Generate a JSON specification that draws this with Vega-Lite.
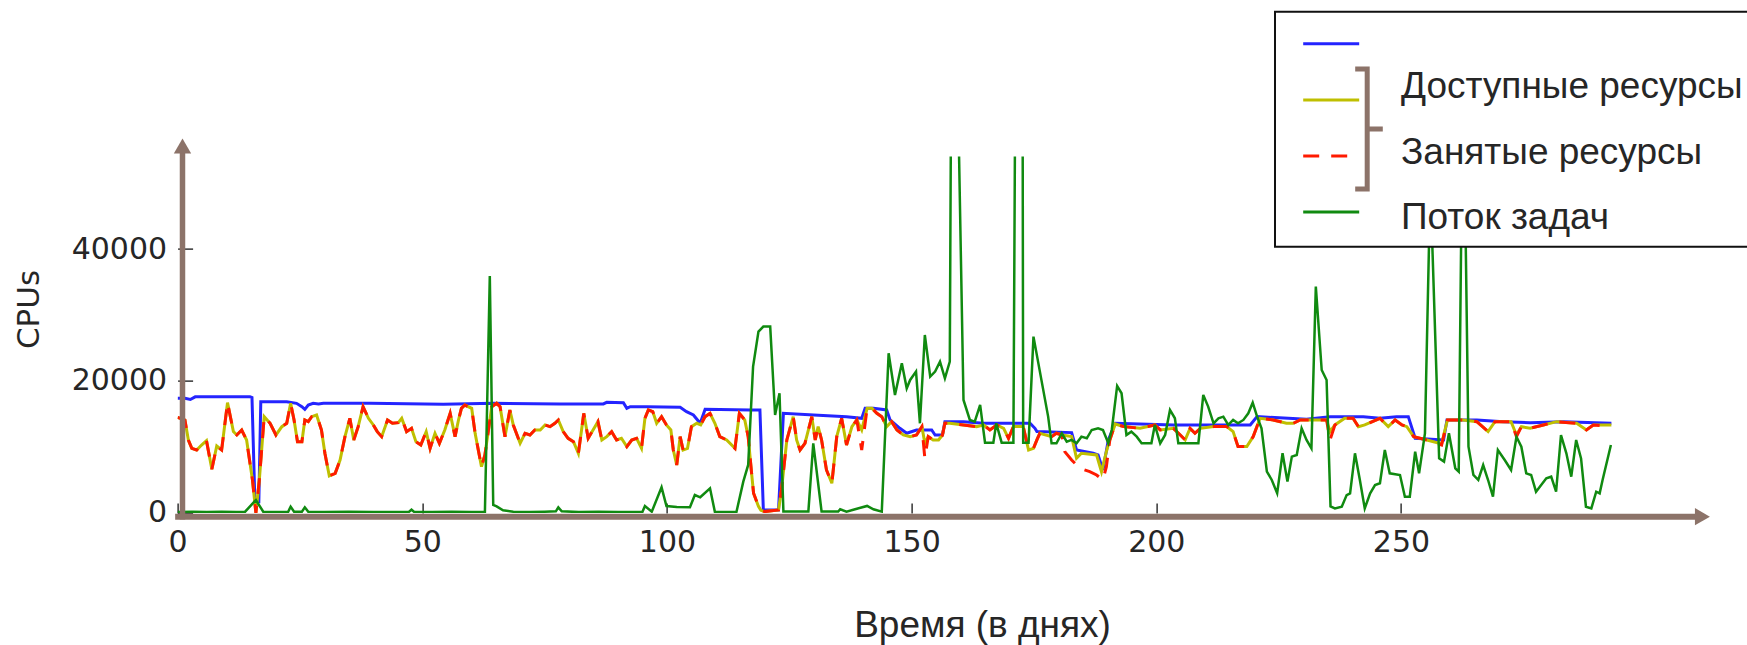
{
  "$schema": "https://vega.github.io/schema/vega-lite/v6.json",
  "width": 1541.45,
  "height": 356.4,
  "autosize": {"type": "none"},
  "padding": {"left": 177.6, "top": 156.6, "right": 28, "bottom": 132},
  "background": "white",
  "config": {
    "view": {"stroke": null},
    "axis": {"grid": false, "domain": false, "tickColor": "black", "tickWidth": 1.2, "labelFont": "DejaVu Sans", "labelFontSize": 30, "labelColor": "#262626", "titleColor": "#262626", "titleFontWeight": "normal", "labelFlush": false},
    "axisX": {"tickSize": -10},
    "axisY": {"tickSize": -15},
    "legend": {"strokeWidth": 2}
  },
  "datasets": {
    "blue": [
      {"d":0,"v":17400},{"d":1.5,"v":17370},{"d":2.6,"v":17200},{"d":3.6,"v":17600},{"d":14.8,"v":17600},{"d":15.2,"v":17500},{"d":15.8,"v":1700},{"d":16.6,"v":1700},{"d":17.0,"v":16870},{"d":22.3,"v":16870},{"d":24.3,"v":16620},{"d":25.4,"v":16110},{"d":26.0,"v":15700},{"d":26.7,"v":16360},{"d":27.7,"v":16620},{"d":28.8,"v":16500},{"d":29.8,"v":16620},{"d":39.3,"v":16620},{"d":54.3,"v":16470},{"d":64.5,"v":16620},{"d":78.1,"v":16520},{"d":87.0,"v":16520},{"d":87.7,"v":16770},{"d":91.1,"v":16720},{"d":91.8,"v":15860},{"d":92.5,"v":16110},{"d":95.9,"v":16110},{"d":102.7,"v":16010},{"d":104.0,"v":15360},{"d":105.4,"v":14850},{"d":106.8,"v":13590},{"d":107.8,"v":15710},{"d":117.0,"v":15610},{"d":119.0,"v":15610},{"d":119.7,"v":460},{"d":122.8,"v":460},{"d":123.8,"v":15100},{"d":130.0,"v":14850},{"d":136.7,"v":14600},{"d":139.8,"v":14350},{"d":140.5,"v":15860},{"d":142.2,"v":15860},{"d":144.9,"v":15610},{"d":145.6,"v":14100},{"d":147.6,"v":12830},{"d":149.0,"v":12080},{"d":151.0,"v":12580},{"d":154.1,"v":12580},{"d":154.8,"v":11820},{"d":156.3,"v":11820},{"d":156.8,"v":13840},{"d":160.6,"v":13840},{"d":164.7,"v":13590},{"d":174.2,"v":13590},{"d":175.2,"v":12830},{"d":175.6,"v":12330},{"d":182.7,"v":12180},{"d":183.7,"v":9550},{"d":187.1,"v":9050},{"d":188.1,"v":8790},{"d":189.1,"v":6520},{"d":190.2,"v":11070},{"d":191.6,"v":13590},{"d":203.5,"v":13340},{"d":210.3,"v":13340},{"d":219.2,"v":13340},{"d":220.6,"v":14600},{"d":230.7,"v":14200},{"d":235.5,"v":14600},{"d":242.3,"v":14600},{"d":245.7,"v":14350},{"d":249.1,"v":14600},{"d":251.5,"v":14600},{"d":252.9,"v":11320},{"d":258.7,"v":11060},{"d":259.4,"v":14090},{"d":265.5,"v":14090},{"d":270.9,"v":13840},{"d":276.4,"v":13690},{"d":283.2,"v":13840},{"d":293.0,"v":13590}
    ],
    "yellow": [
      {"d":0,"v":14500},{"d":1.5,"v":14090},{"d":2.2,"v":11060},{"d":2.9,"v":9800},{"d":3.9,"v":9550},{"d":4.9,"v":10300},{"d":5.9,"v":10960},{"d":7.0,"v":6620},{"d":8.0,"v":10150},{"d":9.0,"v":9550},{"d":10.2,"v":16720},{"d":11.4,"v":12330},{"d":12.1,"v":11820},{"d":13.1,"v":12580},{"d":14.1,"v":11060},{"d":15.3,"v":5000},{"d":16.0,"v":0},{"d":16.7,"v":5000},{"d":17.7,"v":14600},{"d":18.9,"v":13590},{"d":20.1,"v":11820},{"d":21.3,"v":13080},{"d":22.3,"v":13590},{"d":23.1,"v":16620},{"d":23.8,"v":14090},{"d":24.5,"v":10810},{"d":25.4,"v":10810},{"d":26.0,"v":14090},{"d":26.7,"v":13840},{"d":27.4,"v":14600},{"d":28.4,"v":14850},{"d":29.4,"v":12580},{"d":30.1,"v":9040},{"d":31.0,"v":5610},{"d":32.2,"v":6010},{"d":33.2,"v":8030},{"d":34.2,"v":11570},{"d":35.2,"v":14350},{"d":36.0,"v":11060},{"d":36.9,"v":13080},{"d":37.9,"v":16110},{"d":39.0,"v":14350},{"d":40.0,"v":13340},{"d":40.8,"v":12330},{"d":41.7,"v":11570},{"d":42.9,"v":14090},{"d":43.9,"v":13590},{"d":45.1,"v":13690},{"d":45.8,"v":14350},{"d":46.8,"v":12330},{"d":47.8,"v":12830},{"d":48.7,"v":10810},{"d":49.7,"v":10310},{"d":50.8,"v":12330},{"d":51.6,"v":9800},{"d":52.6,"v":12070},{"d":53.5,"v":10560},{"d":54.6,"v":12580},{"d":55.7,"v":15100},{"d":56.7,"v":11570},{"d":57.4,"v":14090},{"d":58.0,"v":15860},{"d":58.7,"v":16360},{"d":60.1,"v":15860},{"d":60.8,"v":12070},{"d":62.1,"v":7020},{"d":62.8,"v":8790},{"d":64.2,"v":16110},{"d":65.2,"v":16620},{"d":65.9,"v":16110},{"d":66.9,"v":11570},{"d":67.9,"v":15610},{"d":68.6,"v":13340},{"d":70.0,"v":10560},{"d":71.0,"v":12070},{"d":72.0,"v":11820},{"d":73.0,"v":12580},{"d":74.1,"v":12580},{"d":75.1,"v":13340},{"d":76.1,"v":13080},{"d":77.1,"v":13590},{"d":77.8,"v":14090},{"d":78.8,"v":12330},{"d":79.8,"v":11320},{"d":80.9,"v":10810},{"d":81.9,"v":9040},{"d":82.6,"v":12830},{"d":83.0,"v":15100},{"d":83.9,"v":11320},{"d":84.9,"v":12580},{"d":85.9,"v":13840},{"d":86.7,"v":11060},{"d":87.7,"v":11570},{"d":88.7,"v":12330},{"d":89.7,"v":11060},{"d":90.7,"v":11320},{"d":91.8,"v":10050},{"d":92.8,"v":11060},{"d":93.8,"v":11320},{"d":94.8,"v":9800},{"d":95.5,"v":14350},{"d":96.2,"v":15610},{"d":97.1,"v":15360},{"d":97.9,"v":13590},{"d":98.9,"v":14600},{"d":99.9,"v":13340},{"d":100.8,"v":12580},{"d":101.3,"v":9550},{"d":102.0,"v":7280},{"d":102.7,"v":11570},{"d":103.3,"v":9550},{"d":104.2,"v":9800},{"d":105.0,"v":13080},{"d":106.1,"v":13590},{"d":106.9,"v":13340},{"d":107.8,"v":14600},{"d":108.8,"v":15100},{"d":109.8,"v":13590},{"d":110.8,"v":11570},{"d":112.2,"v":11060},{"d":113.9,"v":9800},{"d":114.8,"v":15100},{"d":115.9,"v":14090},{"d":116.6,"v":11570},{"d":117.3,"v":6010},{"d":117.7,"v":3000},{"d":118.7,"v":1000},{"d":119.2,"v":400},{"d":120.0,"v":210},{"d":122.8,"v":460},{"d":123.4,"v":3490},{"d":124.5,"v":11070},{"d":125.8,"v":14600},{"d":126.5,"v":11070},{"d":127.2,"v":9550},{"d":128.2,"v":10560},{"d":129.6,"v":14600},{"d":130.3,"v":11070},{"d":130.9,"v":13090},{"d":131.6,"v":11070},{"d":132.6,"v":6520},{"d":133.7,"v":4500},{"d":134.7,"v":11570},{"d":135.7,"v":14350},{"d":136.7,"v":10310},{"d":137.8,"v":13090},{"d":138.8,"v":14100},{"d":139.8,"v":12580},{"d":140.9,"v":15860},{"d":141.9,"v":15860},{"d":142.9,"v":15110},{"d":143.9,"v":14600},{"d":144.9,"v":13090},{"d":145.9,"v":13840},{"d":147.0,"v":12580},{"d":148.3,"v":11820},{"d":149.7,"v":11570},{"d":151.0,"v":11820},{"d":152.1,"v":13090},{"d":152.7,"v":10560},{"d":153.4,"v":11570},{"d":154.4,"v":11070},{"d":155.5,"v":11070},{"d":156.3,"v":11820},{"d":156.8,"v":13590},{"d":157.8,"v":13590},{"d":160.6,"v":13340},{"d":163.3,"v":13090},{"d":164.7,"v":13340},{"d":166.0,"v":12580},{"d":167.4,"v":13340},{"d":168.8,"v":12830},{"d":169.8,"v":11320},{"d":170.8,"v":13090},{"d":172.8,"v":13090},{"d":173.9,"v":9550},{"d":174.9,"v":9800},{"d":175.6,"v":11070},{"d":176.2,"v":12080},{"d":178.6,"v":11570},{"d":179.6,"v":12080},{"d":180.7,"v":11820},{"d":182.7,"v":11570},{"d":183.7,"v":8290},{"d":184.7,"v":9050},{"d":187.8,"v":8790},{"d":188.8,"v":6270},{"d":189.8,"v":9300},{"d":190.5,"v":11070},{"d":191.6,"v":13490},{"d":193.3,"v":13090},{"d":196.7,"v":12830},{"d":199.7,"v":13340},{"d":200.8,"v":12580},{"d":203.5,"v":12830},{"d":204.9,"v":11820},{"d":205.9,"v":11070},{"d":206.9,"v":12830},{"d":207.9,"v":12080},{"d":209.0,"v":12830},{"d":211.7,"v":13090},{"d":214.4,"v":13090},{"d":215.7,"v":12330},{"d":216.7,"v":10060},{"d":218.5,"v":10060},{"d":219.8,"v":11570},{"d":221.2,"v":14350},{"d":223.9,"v":14100},{"d":226.6,"v":13590},{"d":228.0,"v":13590},{"d":229.4,"v":14100},{"d":234.8,"v":14100},{"d":235.5,"v":12330},{"d":236.5,"v":13340},{"d":238.5,"v":14350},{"d":240.2,"v":14350},{"d":241.3,"v":13080},{"d":242.6,"v":13340},{"d":245.7,"v":14350},{"d":247.4,"v":13080},{"d":248.8,"v":14090},{"d":250.2,"v":13340},{"d":251.2,"v":13080},{"d":252.6,"v":11570},{"d":255.3,"v":11060},{"d":258.3,"v":10460},{"d":259.5,"v":14090},{"d":262.7,"v":14090},{"d":265.5,"v":13840},{"d":267.8,"v":12330},{"d":269.2,"v":13840},{"d":272.5,"v":13840},{"d":273.6,"v":11820},{"d":274.6,"v":13080},{"d":276.4,"v":12830},{"d":279.1,"v":13340},{"d":281.8,"v":13840},{"d":285.9,"v":13590},{"d":287.9,"v":12580},{"d":289.3,"v":13340},{"d":293.0,"v":13340}
    ],
    "red": [
      {"d":0,"v":14500},{"d":1.5,"v":14090},{"d":2.2,"v":11060},{"d":2.9,"v":9800},{"d":3.9,"v":9550},{"d":4.9,"v":10300},{"d":5.9,"v":10960},{"d":7.0,"v":6620},{"d":8.0,"v":10150},{"d":9.0,"v":9550},{"d":10.2,"v":16720},{"d":11.4,"v":12330},{"d":12.1,"v":11820},{"d":13.1,"v":12580},{"d":14.1,"v":11060},{"d":15.3,"v":5000},{"d":16.0,"v":0},{"d":16.7,"v":5000},{"d":17.7,"v":14600},{"d":18.9,"v":13590},{"d":20.1,"v":11820},{"d":21.3,"v":13080},{"d":22.3,"v":13590},{"d":23.1,"v":16620},{"d":23.8,"v":14090},{"d":24.5,"v":10810},{"d":25.4,"v":10810},{"d":26.0,"v":14090},{"d":26.7,"v":13840},{"d":27.4,"v":14600},{"d":28.4,"v":14850},{"d":29.4,"v":12580},{"d":30.1,"v":9040},{"d":31.0,"v":5610},{"d":32.2,"v":6010},{"d":33.2,"v":8030},{"d":34.2,"v":11570},{"d":35.2,"v":14350},{"d":36.0,"v":11060},{"d":36.9,"v":13080},{"d":37.9,"v":16110},{"d":39.0,"v":14350},{"d":40.0,"v":13340},{"d":40.8,"v":12330},{"d":41.7,"v":11570},{"d":42.9,"v":14090},{"d":43.9,"v":13590},{"d":45.1,"v":13690},{"d":45.8,"v":14350},{"d":46.8,"v":12330},{"d":47.8,"v":12830},{"d":48.7,"v":10810},{"d":49.7,"v":10310},{"d":50.8,"v":12330},{"d":51.6,"v":9800},{"d":52.6,"v":12070},{"d":53.5,"v":10560},{"d":54.6,"v":12580},{"d":55.7,"v":15100},{"d":56.7,"v":11570},{"d":57.4,"v":14090},{"d":58.0,"v":15860},{"d":58.7,"v":16360},{"d":60.1,"v":15860},{"d":60.8,"v":12070},{"d":62.1,"v":7020},{"d":62.8,"v":8790},{"d":64.2,"v":16110},{"d":65.2,"v":16620},{"d":65.9,"v":16110},{"d":66.9,"v":11570},{"d":67.9,"v":15610},{"d":68.6,"v":13340},{"d":70.0,"v":10560},{"d":71.0,"v":12070},{"d":72.0,"v":11820},{"d":73.0,"v":12580},{"d":74.1,"v":12580},{"d":75.1,"v":13340},{"d":76.1,"v":13080},{"d":77.1,"v":13590},{"d":77.8,"v":14090},{"d":78.8,"v":12330},{"d":79.8,"v":11320},{"d":80.9,"v":10810},{"d":81.9,"v":9040},{"d":82.6,"v":12830},{"d":83.0,"v":15100},{"d":83.9,"v":11320},{"d":84.9,"v":12580},{"d":85.9,"v":13840},{"d":86.7,"v":11060},{"d":87.7,"v":11570},{"d":88.7,"v":12330},{"d":89.7,"v":11060},{"d":90.7,"v":11320},{"d":91.8,"v":10050},{"d":92.8,"v":11060},{"d":93.8,"v":11320},{"d":94.8,"v":9800},{"d":95.5,"v":14350},{"d":96.2,"v":15610},{"d":97.1,"v":15360},{"d":97.9,"v":13590},{"d":98.9,"v":14600},{"d":99.9,"v":13340},{"d":100.8,"v":12580},{"d":101.3,"v":9550},{"d":102.0,"v":7280},{"d":102.7,"v":11570},{"d":103.3,"v":9550},{"d":104.2,"v":9800},{"d":105.0,"v":13080},{"d":106.1,"v":13590},{"d":106.9,"v":13340},{"d":107.8,"v":14600},{"d":108.8,"v":15100},{"d":109.8,"v":13590},{"d":110.8,"v":11570},{"d":112.2,"v":11060},{"d":113.9,"v":9800},{"d":114.8,"v":15100},{"d":115.9,"v":14090},{"d":116.6,"v":11570},{"d":117.3,"v":6010},{"d":117.7,"v":3000},{"d":118.7,"v":1000},{"d":119.2,"v":400},{"d":120.0,"v":210},{"d":122.8,"v":460},{"d":123.4,"v":3490},{"d":124.5,"v":11070},{"d":125.8,"v":14600},{"d":126.5,"v":11070},{"d":127.2,"v":9550},{"d":128.2,"v":10560},{"d":129.6,"v":14600},{"d":130.3,"v":11070},{"d":130.9,"v":13090},{"d":131.6,"v":11070},{"d":132.6,"v":6520},{"d":133.7,"v":4500},{"d":134.7,"v":11570},{"d":135.7,"v":14350},{"d":136.7,"v":10310},{"d":137.8,"v":13090},{"d":138.8,"v":14100},{"d":139.8,"v":9550},{"d":140.9,"v":15860},{"d":141.9,"v":15860},{"d":142.9,"v":15110},{"d":143.9,"v":14600},{"d":144.9,"v":13090},{"d":145.9,"v":13840},{"d":147.0,"v":12580},{"d":148.3,"v":11820},{"d":149.7,"v":11570},{"d":151.0,"v":11820},{"d":152.1,"v":13090},{"d":152.7,"v":8290},{"d":153.4,"v":11570},{"d":154.4,"v":11070},{"d":155.5,"v":11070},{"d":156.3,"v":11820},{"d":156.8,"v":13590},{"d":157.8,"v":13590},{"d":160.6,"v":13340},{"d":163.3,"v":13090},{"d":164.7,"v":13340},{"d":166.0,"v":12580},{"d":167.4,"v":13340},{"d":168.8,"v":12830},{"d":169.8,"v":11320},{"d":170.8,"v":13090},{"d":172.8,"v":13090},{"d":173.9,"v":9550},{"d":174.9,"v":9800},{"d":175.6,"v":11070},{"d":176.2,"v":12080},{"d":178.6,"v":11570},{"d":179.6,"v":12080},{"d":180.7,"v":11820},{"d":181.3,"v":9300},{"d":182.7,"v":8040},{"d":184.4,"v":6770},{"d":186.4,"v":6270},{"d":187.8,"v":5760},{"d":189.1,"v":5000},{"d":189.8,"v":7030},{"d":190.5,"v":11070},{"d":191.6,"v":13490},{"d":193.3,"v":13090},{"d":196.7,"v":12830},{"d":199.7,"v":13340},{"d":200.8,"v":12580},{"d":203.5,"v":12830},{"d":204.9,"v":11820},{"d":205.9,"v":11070},{"d":206.9,"v":12830},{"d":207.9,"v":12080},{"d":209.0,"v":12830},{"d":211.7,"v":13090},{"d":214.4,"v":13090},{"d":215.7,"v":12330},{"d":216.7,"v":10060},{"d":218.5,"v":10060},{"d":219.8,"v":11570},{"d":221.2,"v":14350},{"d":223.9,"v":14100},{"d":226.6,"v":13590},{"d":228.0,"v":13590},{"d":229.4,"v":14100},{"d":234.8,"v":14100},{"d":235.5,"v":11060},{"d":236.5,"v":13340},{"d":238.5,"v":14350},{"d":240.2,"v":14350},{"d":241.3,"v":13080},{"d":242.6,"v":13340},{"d":245.7,"v":14350},{"d":247.4,"v":13080},{"d":248.8,"v":14090},{"d":250.2,"v":13340},{"d":251.2,"v":13080},{"d":252.6,"v":11570},{"d":255.3,"v":11060},{"d":258.3,"v":10310},{"d":259.5,"v":14090},{"d":262.7,"v":14090},{"d":265.5,"v":13840},{"d":267.8,"v":12330},{"d":269.2,"v":13840},{"d":272.5,"v":13840},{"d":273.6,"v":11570},{"d":274.6,"v":13080},{"d":276.4,"v":12830},{"d":279.1,"v":13340},{"d":281.8,"v":13840},{"d":285.9,"v":13590},{"d":287.9,"v":12580},{"d":289.3,"v":13340},{"d":293.0,"v":13080}
    ],
    "green": [
      {"d":0,"v":150},{"d":3,"v":200},{"d":6,"v":150},{"d":9,"v":200},{"d":12,"v":150},{"d":13.8,"v":200},{"d":16.0,"v":1970},{"d":17.5,"v":200},{"d":20,"v":150},{"d":22.6,"v":200},{"d":23.1,"v":960},{"d":23.8,"v":200},{"d":25.4,"v":200},{"d":26.0,"v":860},{"d":26.7,"v":200},{"d":30,"v":150},{"d":35,"v":200},{"d":40,"v":150},{"d":45,"v":150},{"d":47.3,"v":200},{"d":47.8,"v":500},{"d":48.3,"v":200},{"d":52,"v":150},{"d":56,"v":200},{"d":60,"v":150},{"d":62.8,"v":150},{"d":63.8,"v":35900},{"d":64.5,"v":1220},{"d":65.2,"v":1000},{"d":66.5,"v":400},{"d":68.6,"v":200},{"d":72,"v":150},{"d":75,"v":200},{"d":77.3,"v":250},{"d":77.8,"v":860},{"d":78.5,"v":250},{"d":82,"v":150},{"d":86,"v":200},{"d":90,"v":150},{"d":95.0,"v":200},{"d":95.5,"v":1060},{"d":96.9,"v":200},{"d":98.9,"v":3890},{"d":99.9,"v":1060},{"d":102,"v":900},{"d":104.7,"v":860},{"d":105.7,"v":2730},{"d":106.8,"v":2380},{"d":108.8,"v":3740},{"d":109.8,"v":150},{"d":114.2,"v":150},{"d":115.6,"v":4750},{"d":116.6,"v":7280},{"d":117.6,"v":22180},{"d":118.7,"v":27480},{"d":119.7,"v":28240},{"d":121.1,"v":28240},{"d":122.1,"v":14850},{"d":123.0,"v":18140},{"d":123.8,"v":210},{"d":128.9,"v":210},{"d":129.9,"v":10560},{"d":131.6,"v":210},{"d":135.0,"v":210},{"d":135.4,"v":560},{"d":136.7,"v":210},{"d":140.9,"v":1070},{"d":142.2,"v":560},{"d":143.9,"v":210},{"d":145.3,"v":24200},{"d":146.6,"v":17880},{"d":148.0,"v":22680},{"d":149.0,"v":18890},{"d":149.7,"v":20160},{"d":150.9,"v":21420},{"d":151.7,"v":13590},{"d":152.7,"v":26970},{"d":153.8,"v":20660},{"d":154.8,"v":21420},{"d":155.8,"v":22930},{"d":156.8,"v":20410},{"d":157.8,"v":22930},{"d":158.35,"v":109000},{"d":160.6,"v":17130},{"d":161.9,"v":14100},{"d":162.9,"v":13840},{"d":164.0,"v":16370},{"d":165.0,"v":10660},{"d":166.7,"v":10660},{"d":167.3,"v":13590},{"d":168.4,"v":10660},{"d":170.8,"v":10660},{"d":172.3,"v":227000},{"d":172.8,"v":10660},{"d":173.9,"v":10660},{"d":174.9,"v":26720},{"d":177.9,"v":14600},{"d":178.6,"v":10560},{"d":179.6,"v":10560},{"d":180.7,"v":12080},{"d":181.7,"v":10810},{"d":182.7,"v":11070},{"d":183.7,"v":10560},{"d":184.7,"v":11570},{"d":185.8,"v":11320},{"d":186.8,"v":12580},{"d":188.1,"v":12830},{"d":189.1,"v":12580},{"d":190.2,"v":10560},{"d":190.9,"v":12580},{"d":192.0,"v":19250},{"d":192.9,"v":18140},{"d":193.9,"v":11820},{"d":194.9,"v":12330},{"d":196.0,"v":11570},{"d":197.0,"v":10560},{"d":199.0,"v":10560},{"d":199.7,"v":13340},{"d":200.8,"v":10560},{"d":201.8,"v":11820},{"d":202.8,"v":15610},{"d":203.8,"v":14350},{"d":204.5,"v":10560},{"d":208.6,"v":10560},{"d":209.6,"v":17880},{"d":210.6,"v":16120},{"d":211.7,"v":13590},{"d":212.7,"v":14350},{"d":213.7,"v":14600},{"d":214.7,"v":13340},{"d":215.7,"v":14100},{"d":216.7,"v":13590},{"d":217.8,"v":14100},{"d":218.8,"v":15110},{"d":219.7,"v":16720},{"d":220.6,"v":14600},{"d":221.5,"v":12830},{"d":222.6,"v":6270},{"d":223.6,"v":5010},{"d":224.7,"v":2990},{"d":225.8,"v":9050},{"d":226.8,"v":4750},{"d":227.7,"v":8540},{"d":228.7,"v":8790},{"d":229.7,"v":12830},{"d":230.7,"v":11070},{"d":231.7,"v":9800},{"d":232.6,"v":34300},{"d":233.8,"v":21670},{"d":234.8,"v":20160},{"d":235.6,"v":1000},{"d":236.5,"v":700},{"d":237.9,"v":950},{"d":238.9,"v":2720},{"d":239.6,"v":2980},{"d":240.6,"v":9040},{"d":241.6,"v":5000},{"d":242.6,"v":700},{"d":243.7,"v":2980},{"d":244.7,"v":4240},{"d":245.7,"v":4500},{"d":246.7,"v":9550},{"d":247.7,"v":6010},{"d":249.8,"v":5760},{"d":250.8,"v":2470},{"d":251.8,"v":2470},{"d":252.9,"v":9300},{"d":253.7,"v":6010},{"d":254.9,"v":12070},{"d":256.0,"v":50000},{"d":257.8,"v":8280},{"d":258.8,"v":7780},{"d":259.8,"v":12070},{"d":261.1,"v":6770},{"d":261.8,"v":6270},{"d":262.7,"v":70000},{"d":263.8,"v":10050},{"d":264.8,"v":5760},{"d":265.8,"v":5000},{"d":266.8,"v":7270},{"d":267.8,"v":5000},{"d":268.8,"v":2470},{"d":269.8,"v":9550},{"d":271.2,"v":8030},{"d":272.5,"v":6520},{"d":273.6,"v":11560},{"d":274.6,"v":10050},{"d":275.6,"v":6010},{"d":276.6,"v":5760},{"d":277.6,"v":3230},{"d":279.7,"v":5250},{"d":280.7,"v":5500},{"d":281.7,"v":3230},{"d":282.7,"v":11810},{"d":283.8,"v":9040},{"d":284.8,"v":5500},{"d":285.8,"v":11060},{"d":286.8,"v":8280},{"d":287.8,"v":950},{"d":288.9,"v":700},{"d":289.9,"v":3230},{"d":290.6,"v":2980},{"d":291.2,"v":5000},{"d":292.9,"v":10300}
    ],
    "labels": [{"lab": "Доступные ресурсы"}, {"lab": "Занятые ресурсы"}, {"lab": "Поток задач"}],
    "series": [{"s": "Всего ресурсов"}, {"s": "Доступные ресурсы"}, {"s": "Занятые ресурсы"}, {"s": "Поток задач"}]
  },
  "layer": [
    {
      "data": {"name": "blue"},
      "mark": {"type": "line", "strokeWidth": 3, "clip": true, "color": "#2424ff"},
      "encoding": {
        "x": {"field": "d", "type": "quantitative", "title": "Время (в днях)", "scale": {"domain": [0, 315], "nice": false, "zero": false},
          "axis": {"values": [0, 50, 100, 150, 200, 250], "labelPadding": 25, "titleFont": "Liberation Sans", "titleFontSize": 37, "titleX": 804.4, "titleY": 124, "titleAlign": "center", "titleBaseline": "alphabetic"}},
        "y": {"field": "v", "type": "quantitative", "title": "CPUs", "scale": {"domain": [0, 54000], "nice": false},
          "axis": {"values": [0, 20000, 40000], "format": "d", "labelPadding": 26, "titleFont": "DejaVu Sans", "titleFontSize": 31, "titleX": -148.4, "titleY": 152.4, "titleAngle": -90, "titleAlign": "center", "titleBaseline": "middle"}}
      }
    },
    {
      "data": {"name": "yellow"},
      "mark": {"type": "line", "strokeWidth": 3, "clip": true, "color": "#bfbf00"},
      "encoding": {
        "x": {"field": "d", "type": "quantitative", "title": "Время (в днях)"},
        "y": {"field": "v", "type": "quantitative", "title": "CPUs"}
      }
    },
    {
      "data": {"name": "red"},
      "mark": {"type": "line", "strokeWidth": 3, "clip": true, "color": "#ff1a00", "strokeDash": [16, 12]},
      "encoding": {
        "x": {"field": "d", "type": "quantitative", "title": "Время (в днях)"},
        "y": {"field": "v", "type": "quantitative", "title": "CPUs"}
      }
    },
    {
      "data": {"name": "green"},
      "mark": {"type": "line", "strokeWidth": 2.5, "clip": true, "color": "#108a10"},
      "encoding": {
        "x": {"field": "d", "type": "quantitative", "title": "Время (в днях)"},
        "y": {"field": "v", "type": "quantitative", "title": "CPUs"}
      }
    },
    {
      "data": {"values": [{}]},
      "mark": {"type": "rule", "color": "#8c7369", "strokeWidth": 5.5},
      "encoding": {"x": {"datum": 1.0, "type": "quantitative", "title": "Время (в днях)"}, "y": {"datum": -1000, "type": "quantitative", "title": "CPUs"}, "y2": {"datum": 54700}}
    },
    {
      "data": {"values": [{}]},
      "mark": {"type": "rule", "color": "#8c7369", "strokeWidth": 6},
      "encoding": {"y": {"datum": -560, "type": "quantitative", "title": "CPUs"}, "x": {"datum": -0.5, "type": "quantitative", "title": "Время (в днях)"}, "x2": {"datum": 310.5}}
    },
    {
      "data": {"values": [{}]},
      "mark": {"type": "point", "shape": "triangle-up", "size": 300, "filled": true, "color": "#8c7369", "opacity": 1},
      "encoding": {"x": {"datum": 1.0, "type": "quantitative", "title": "Время (в днях)"}, "y": {"datum": 55620, "type": "quantitative", "title": "CPUs"}}
    },
    {
      "data": {"values": [{}]},
      "mark": {"type": "point", "shape": "triangle-right", "size": 300, "filled": true, "color": "#8c7369", "opacity": 1},
      "encoding": {"x": {"datum": 311.6, "type": "quantitative", "title": "Время (в днях)"}, "y": {"datum": -560, "type": "quantitative", "title": "CPUs"}}
    },
    {
      "data": {"name": "labels"},
      "mark": {"type": "point", "size": 0, "filled": true},
      "encoding": {
        "x": {"datum": 1.0, "type": "quantitative", "title": "Время (в днях)"},
        "y": {"datum": -560, "type": "quantitative", "title": "CPUs"},
        "fill": {"field": "lab", "type": "nominal",
          "scale": {"domain": ["Доступные ресурсы", "Занятые ресурсы", "Поток задач"], "range": ["#bfbf00", "#ff1a00", "#108a10"]},
          "legend": {"orient": "none", "legendX": 1097.4, "legendY": -144.9, "title": " ", "titleFontSize": 10, "titlePadding": 36.8, "symbolSize": 1369, "symbolOpacity": 0, "symbolOffset": 0, "labelFont": "Liberation Sans", "labelFontSize": 37, "labelColor": "#262626", "labelOffset": 78, "labelLimit": 900, "rowPadding": 27.7, "padding": 9, "fillColor": "white", "strokeColor": "#111111"}}
      }
    },
    {
      "data": {"name": "series"},
      "mark": {"type": "point", "size": 0, "filled": false},
      "encoding": {
        "x": {"datum": 1.0, "type": "quantitative", "title": "Время (в днях)"},
        "y": {"datum": -560, "type": "quantitative", "title": "CPUs"},
        "stroke": {"field": "s", "type": "nominal",
          "scale": {"domain": ["Всего ресурсов", "Доступные ресурсы", "Занятые ресурсы", "Поток задач"], "range": ["#2424ff", "#bfbf00", "#ff1a00", "#108a10"]},
          "legend": {"orient": "none", "legendX": 1124.1, "legendY": -142.3, "title": null, "labelExpr": "''", "symbolType": "stroke", "symbolSize": 3136, "symbolStrokeWidth": 3, "symbolOpacity": 1, "symbolOffset": 0, "labelOffset": 0, "rowPadding": 20.1, "padding": 0, "fillColor": null, "strokeColor": null}},
        "strokeDash": {"field": "s", "type": "nominal",
          "scale": {"domain": ["Всего ресурсов", "Доступные ресурсы", "Занятые ресурсы", "Поток задач"], "range": [[1, 0], [1, 0], [16, 12], [1, 0]]}}
      }
    },
    {
      "data": {"values": [{}]},
      "mark": {"type": "point", "size": 0, "filled": false, "color": "#8c7369", "strokeWidth": 5},
      "encoding": {
        "x": {"datum": 1.0, "type": "quantitative", "title": "Время (в днях)"},
        "y": {"datum": -560, "type": "quantitative", "title": "CPUs"},
        "shape": {"datum": "]", "type": "nominal",
          "scale": {"domain": ["]"], "range": ["M-0.2,-1H0V1H-0.2M0,0H0.26"]},
          "legend": {"orient": "none", "legendX": 1127.1, "legendY": -90, "title": null, "labelExpr": "''", "symbolSize": 14400, "symbolStrokeWidth": 5, "symbolStrokeColor": "#8c7369", "symbolFillColor": "transparent", "symbolOpacity": 1, "padding": 0, "symbolOffset": 0, "labelOffset": 0, "fillColor": null, "strokeColor": null}}
      }
    }
  ]
}
